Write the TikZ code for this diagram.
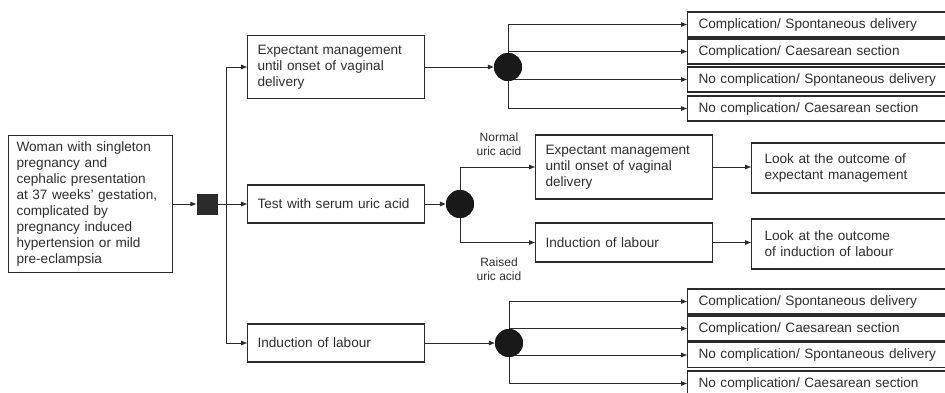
\documentclass[tikz,border=0pt]{standalone}
\usepackage{fontspec}
\setmainfont{Liberation Sans}
\usetikzlibrary{arrows.meta}
\hyphenpenalty=10000
\definecolor{linecol}{HTML}{2B2B2B}
\definecolor{txtcol}{HTML}{2E2E2E}
\tikzset{
  box/.style={draw=linecol, line width=1.1pt, rectangle, anchor=west, inner xsep=11pt, inner ysep=0pt,
    align=left, text=txtcol, font=\fontsize{13.6}{16}\selectfont},
  decision/.style={rectangle, fill=linecol, minimum size=21pt, inner sep=0pt},
  chance/.style={circle, fill=black!90, minimum size=28pt, inner sep=0pt},
  arr/.style={-{Triangle[length=6pt,width=4.5pt]}, line width=1pt, draw=linecol},
  lbl/.style={align=center, text=txtcol, font=\fontsize{12}{14}\selectfont}
}
\begin{document}
\begin{tikzpicture}[x=1pt,y=-1pt]
    \useasboundingbox (0,0) rectangle (945,392);
    \clip (0,0) rectangle (945,392);
    \node[box, text width=148pt, minimum height=137pt, inner xsep=8pt] (woman) at (8,204)
      {Woman with singleton\\pregnancy and\\cephalic presentation\\at 37 weeks' gestation,\\complicated by\\pregnancy induced\\hypertension or mild\\pre-eclampsia};
    \node[decision] (dec) at (207,204) {};
    \coordinate (fork) at (226,204);
    \node[box, text width=157pt, minimum height=63pt, inner xsep=10pt] (expA) at (247,67)
      {Expectant management\\until onset of vaginal\\delivery};
    \node[box, text width=157pt, minimum height=38pt, inner xsep=10pt] (test) at (247,204) {Test with serum uric acid};
    \node[box, text width=157pt, minimum height=38pt, inner xsep=10pt] (indA) at (247,343) {Induction of labour};
    \node[chance] (chA) at (508,67) {};
    \node[chance] (chB) at (460,204) {};
    \node[chance] (chC) at (509,343) {};
    \node[box, text width=300pt, minimum height=25pt] (oA1) at (687,24.5) {Complication/ Spontaneous delivery};
    \node[box, text width=300pt, minimum height=25pt] (oA2) at (687,51.5) {Complication/ Caesarean section};
    \node[box, text width=300pt, minimum height=25pt] (oA3) at (687,79.5) {No complication/ Spontaneous delivery};
    \node[box, text width=300pt, minimum height=25pt] (oA4) at (687,108.5) {No complication/ Caesarean section};
    \node[box, text width=157pt, minimum height=64pt, inner xsep=10pt] (expB) at (535,167)
      {Expectant management\\until onset of vaginal\\delivery};
    \node[box, text width=157pt, minimum height=39pt, inner xsep=10pt] (indB) at (535,242.5) {Induction of labour};
    \node[box, text width=250pt, minimum height=50pt, inner xsep=13pt] (lookA) at (751,168)
      {Look at the outcome of\\expectant management};
    \node[box, text width=250pt, minimum height=50pt, inner xsep=13pt] (lookB) at (751,244)
      {Look at the outcome\\of induction of labour};
    \node[box, text width=300pt, minimum height=25pt] (oC1) at (687,301.5) {Complication/ Spontaneous delivery};
    \node[box, text width=300pt, minimum height=25pt] (oC2) at (687,328.5) {Complication/ Caesarean section};
    \node[box, text width=300pt, minimum height=25pt] (oC3) at (687,355) {No complication/ Spontaneous delivery};
    \node[box, text width=300pt, minimum height=25pt] (oC4) at (687,383.5) {No complication/ Caesarean section};
    \node[lbl] (normal) at (499,144) {Normal\\uric acid};
    \node[lbl] (raised) at (499,269) {Raised\\uric acid};
    \draw[arr] (woman.east) -- (dec.west);
    \draw[arr] (dec.east) -- (test.west);
    \draw[arr] (fork) |- (expA.west);
    \draw[arr] (fork) |- (indA.west);
    \draw[arr] (expA.east) -- (chA.west);
    \draw[arr] (test.east) -- (chB.west);
    \draw[arr] (indA.east) -- (chC.west);
    \foreach \o in {oA1,oA2,oA3,oA4}
      \draw[arr] (chA.center) |- (\o.west);
    \foreach \o in {oC1,oC2,oC3,oC4}
      \draw[arr] (chC.center) |- (\o.west);
    \draw[arr] (chB.center) |- (expB.west);
    \draw[arr] (chB.center) |- (indB.west);
    \draw[arr] (expB.east) -- (expB.east -| lookA.west);
    \draw[arr] (indB.east) -- (indB.east -| lookB.west);
    \node[chance] at (chA) {};
    \node[chance] at (chB) {};
    \node[chance] at (chC) {};
 \end{tikzpicture}
\end{document}
